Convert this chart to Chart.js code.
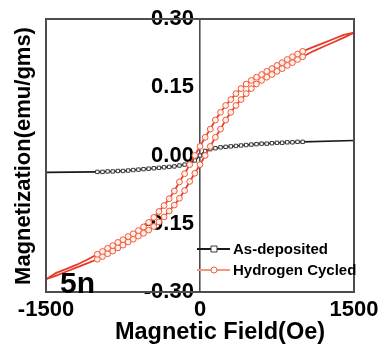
<!DOCTYPE html>
<html>
<head>
<meta charset="utf-8">
<title>Magnetization loop</title>
<script src="https://cdn.jsdelivr.net/npm/chart.js@4.4.1/dist/chart.umd.min.js"></script>
<style>
  html, body { margin: 0; padding: 0; background: #fff; }
  #wrap { width: 385px; height: 344px; }
</style>
</head>
<body>
<div id="wrap"><canvas id="mh" width="385" height="344"></canvas></div>
<script>
'use strict';

// Axis ticks
var fieldTicks = [-1500, 0, 1500];
var momentTicks = [-0.30, -0.15, 0.00, 0.15, 0.30];

// As-deposited film (single sweep)
var fieldAsDep = [-1500, -1000, -950, -900, -850, -800, -750, -700, -650, -600, -550,
    -500, -450, -400, -350, -300, -250, -200, -150, -100, -50, 0, 50, 100, 150, 200,
    250, 300, 350, 400, 450, 500, 550, 600, 650, 700, 750, 800, 850, 900, 950, 1000, 1500];
var magAsDep = [-0.037, -0.036, -0.036, -0.035, -0.035, -0.034, -0.034, -0.033, -0.032,
    -0.031, -0.030, -0.029, -0.028, -0.027, -0.026, -0.025, -0.024, -0.022, -0.020,
    -0.017, -0.011, 0.000, 0.010, 0.014, 0.016, 0.018, 0.019, 0.020, 0.021, 0.022,
    0.023, 0.024, 0.025, 0.026, 0.026, 0.027, 0.028, 0.028, 0.029, 0.029, 0.030, 0.030, 0.033];

// Hydrogen cycled film, descending branch (+1500 -> -1500)
var fieldDown = [1500, 1400, 1300, 1200, 1100, 1000, 950, 900, 850, 800, 750, 700, 650,
    600, 550, 500, 450, 400, 350, 300, 250, 200, 150, 100, 50, 0, -50, -100, -150, -200,
    -250, -300, -350, -400, -450, -500, -550, -600, -650, -700, -750, -800, -850, -900,
    -950, -1000, -1100, -1200, -1300, -1400, -1500];
var magDown = [0.270, 0.265, 0.256, 0.247, 0.238, 0.229, 0.223, 0.217, 0.211, 0.204,
    0.198, 0.191, 0.185, 0.178, 0.172, 0.165, 0.157, 0.147, 0.136, 0.123, 0.110, 0.095,
    0.078, 0.058, 0.040, 0.020, 0.000, -0.020, -0.040, -0.058, -0.078, -0.095, -0.110,
    -0.123, -0.136, -0.147, -0.157, -0.165, -0.172, -0.178, -0.185, -0.191, -0.198,
    -0.204, -0.211, -0.217, -0.229, -0.240, -0.249, -0.258, -0.272];

// Hydrogen cycled film, ascending branch (-1500 -> +1500)
var fieldUp = [-1500, -1400, -1300, -1200, -1100, -1000, -950, -900, -850, -800, -750,
    -700, -650, -600, -550, -500, -450, -400, -350, -300, -250, -200, -150, -100, -50,
    0, 50, 100, 150, 200, 250, 300, 350, 400, 450, 500, 550, 600, 650, 700, 750, 800,
    850, 900, 950, 1000, 1100, 1200, 1300, 1400, 1500];
var magUp = [-0.272, -0.264, -0.255, -0.246, -0.237, -0.228, -0.222, -0.216, -0.210,
    -0.203, -0.197, -0.190, -0.184, -0.177, -0.171, -0.164, -0.156, -0.146, -0.135,
    -0.122, -0.109, -0.094, -0.077, -0.057, -0.039, -0.020, 0.000, 0.020, 0.040, 0.058,
    0.078, 0.095, 0.110, 0.123, 0.136, 0.147, 0.157, 0.165, 0.172, 0.178, 0.185, 0.191,
    0.198, 0.204, 0.211, 0.217, 0.229, 0.239, 0.249, 0.259, 0.270];

var FONT = "'Liberation Sans', Arial, Helvetica, sans-serif";

Chart.defaults.font.family = FONT;
Chart.defaults.font.weight = 'bold';
Chart.defaults.color = '#000';

/**
 * Zip two arrays into {x, y} points
 */
function toPoints(xs, ys) {
    return xs.map(function(x, i) {
        return { x: x, y: ys[i] };
    });
}

/**
 * Markers only on the measured part of the sweep
 */
function markerRadius(r) {
    return function(c) {
        return Math.abs(c.raw.x) > 1000 ? 0 : r;
    };
}

/**
 * Frame, key, axis titles and panel tag
 */
var decorPlugin = {
    id: 'decor',
    afterDraw: function(chart) {
        var ctx = chart.ctx;
        var a = chart.chartArea;
        ctx.save();

        // plot frame
        ctx.strokeStyle = '#4d4d4d';
        ctx.lineWidth = 2;
        ctx.strokeRect(a.left, a.top, a.right - a.left, a.bottom - a.top);

        // key, bottom right inside the frame
        var rows = [0, 1];
        rows.forEach(function(idx, i) {
            var ds = chart.data.datasets[idx];
            var y = 249 + i * 21;
            ctx.strokeStyle = ds.keyColor;
            ctx.lineWidth = 2;
            ctx.beginPath();
            ctx.moveTo(197, y);
            ctx.lineTo(230, y);
            ctx.stroke();
            ctx.fillStyle = '#fff';
            ctx.lineWidth = 1;
            ctx.strokeStyle = ds.pointBorderColor;
            ctx.beginPath();
            if (ds.pointStyle === 'rect') {
                ctx.rect(211, y - 3, 6, 6);
            } else {
                ctx.arc(214, y, 3, 0, Math.PI * 2);
            }
            ctx.fill();
            ctx.stroke();
            ctx.fillStyle = '#000';
            ctx.font = 'bold 15px ' + FONT;
            ctx.textAlign = 'left';
            ctx.textBaseline = 'middle';
            ctx.fillText(ds.label, 233, y + 1);
        });

        ctx.fillStyle = '#000';

        // y axis title
        ctx.save();
        ctx.translate(24, 156);
        ctx.rotate(-Math.PI / 2);
        ctx.font = 'bold 22px ' + FONT;
        ctx.textAlign = 'center';
        ctx.textBaseline = 'middle';
        ctx.fillText('Magnetization(emu/gms)', 0, 0);
        ctx.restore();

        // x axis title
        ctx.font = 'bold 23.5px ' + FONT;
        ctx.textAlign = 'center';
        ctx.textBaseline = 'middle';
        ctx.fillText('Magnetic Field(Oe)', 220, 333);

        // panel tag
        ctx.font = 'bold 30px ' + FONT;
        ctx.textAlign = 'left';
        ctx.textBaseline = 'alphabetic';
        ctx.fillText('5n', 60, 293);

        ctx.restore();
    }
};

var ctx = document.getElementById('mh').getContext('2d');

new Chart(ctx, {
    type: 'scatter',
    data: {
        datasets: [{
            label: 'As-deposited',
            data: toPoints(fieldAsDep, magAsDep),
            showLine: true,
            order: 2,
            borderColor: '#1a1a1a',
            keyColor: '#1a1a1a',
            borderWidth: 1.6,
            pointStyle: 'rect',
            pointRadius: markerRadius(2.4),
            pointBorderWidth: 1,
            pointBorderColor: '#3a3a3a',
            pointBackgroundColor: '#fff'
        }, {
            label: 'Hydrogen Cycled',
            data: toPoints(fieldDown, magDown),
            showLine: true,
            order: 0,
            borderColor: '#e63b28',
            keyColor: '#f29a7c',
            borderWidth: 1.8,
            pointStyle: 'circle',
            pointRadius: markerRadius(2.9),
            pointBorderWidth: 1,
            pointBorderColor: '#ef5a3c',
            pointBackgroundColor: '#fff0ea'
        }, {
            label: 'Hydrogen Cycled',
            data: toPoints(fieldUp, magUp),
            showLine: true,
            order: 1,
            borderColor: '#e63b28',
            borderWidth: 1.8,
            pointStyle: 'circle',
            pointRadius: markerRadius(2.9),
            pointBorderWidth: 1,
            pointBorderColor: '#ef5a3c',
            pointBackgroundColor: '#fff0ea'
        }]
    },
    options: {
        responsive: false,
        devicePixelRatio: 1,
        animation: false,
        events: [],
        layout: {
            padding: { left: 46, right: 31, top: 19, bottom: 0 }
        },
        plugins: {
            legend: { display: false },
            tooltip: { enabled: false }
        },
        scales: {
            x: {
                type: 'linear',
                min: -1500,
                max: 1500,
                afterBuildTicks: function(scale) {
                    scale.ticks = fieldTicks.map(function(v) { return { value: v }; });
                },
                afterFit: function(scale) {
                    scale.height = 52;
                },
                grid: { drawOnChartArea: false, drawTicks: false },
                border: { display: false },
                ticks: {
                    padding: 5,
                    maxRotation: 0,
                    font: { size: 22, weight: 'bold' },
                    color: '#000',
                    callback: function(v) {
                        return String(v);
                    }
                }
            },
            y: {
                type: 'linear',
                min: -0.3,
                max: 0.3,
                position: { x: 0 },
                afterBuildTicks: function(scale) {
                    scale.ticks = momentTicks.map(function(v) { return { value: v }; });
                },
                afterFit: function(scale) {
                    scale.width = 0;
                },
                grid: { drawOnChartArea: false, drawTicks: false },
                border: { display: true, color: '#4d4d4d', width: 1.6 },
                ticks: {
                    font: { size: 22, weight: 'bold' },
                    color: '#000',
                    callback: function(v) {
                        return v.toFixed(2) + ' ';
                    }
                }
            }
        }
    },
    plugins: [decorPlugin]
});
</script>
</body>
</html>
